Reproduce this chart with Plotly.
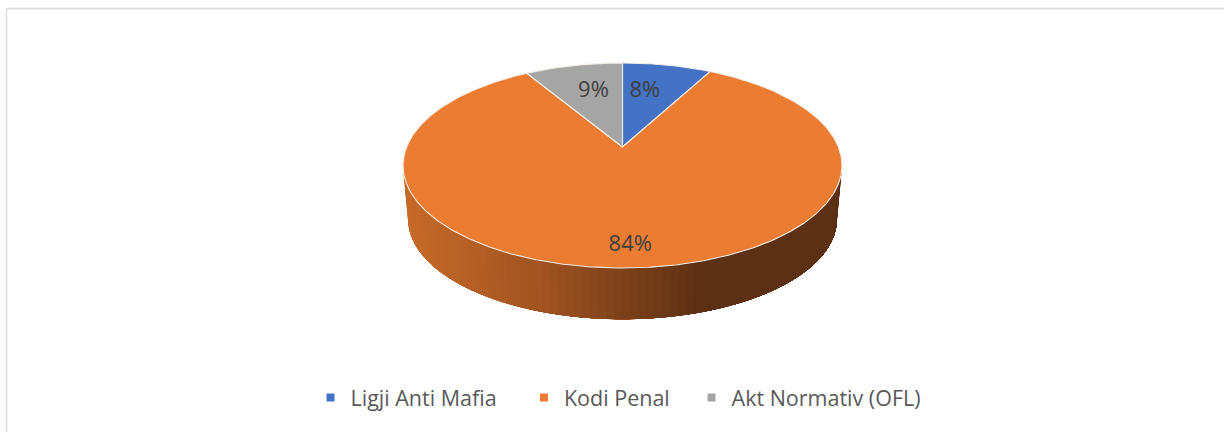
import numpy as np
import plotly.graph_objects as go

categories = ["Ligji Anti Mafia", "Kodi Penal", "Akt Normativ (OFL)"]
values = [7.8, 83.65, 8.55]
colors = ["#4472C4", "#EB7C31", "#A5A5A5"]
label_radius = [0.62, 0.80, 0.62]
label_shift = [(-7, -2), (3, 6), (3, -2)]
legend_pad = [4, 3, 0]

W, H = 1224, 432
CX, CY = 622.5, 147.0
A, B, K = 215.9, 99.2, -0.18
DEPTH_DY, DEPTH_S = 54.0, 0.977


def project(phi_deg, r=1.0, s=1.0, dy=0.0):
    p = np.radians(phi_deg)
    u, v = r * np.sin(p), -r * np.cos(p)
    d = 1 + K * v
    return CX + s * A * u / d, CY + dy + s * B * v / d


def side_color(x):
    stops_x = [405, 470, 540, 620, 700, 845]
    stops = np.array([[198, 107, 42], [180, 95, 38], [160, 83, 33], [124, 65, 27], [92, 48, 20], [92, 48, 20]])
    return "rgb(%d,%d,%d)" % tuple(np.interp(x, stops_x, stops[:, i]) for i in range(3))


fig = go.Figure()

# side wall: overlapping strips painted left to right (phi descends from 261 to 99)
edges = np.linspace(261, 99, 91)
for a, b in zip(edges[:-1], edges[1:]):
    phi = np.linspace(a, 99, 40)  # each strip runs on to the far end; the next paints over it
    x1, y1 = project(phi)
    x2, y2 = project(phi[::-1], s=DEPTH_S, dy=DEPTH_DY)
    xs = np.r_[x1, x2, x1[0]]
    ys = np.r_[y1, y2, y1[0]]
    c = side_color(float(project(a)[0]))
    fig.add_trace(go.Scatter(x=xs, y=ys, mode="lines", fill="toself", fillcolor=c,
                             line=dict(width=0), showlegend=False, hoverinfo="skip"))

# top face
total = sum(values)
start = 0.0
lx, ly, texts = [], [], []
for name, val, col, lr, sh in zip(categories, values, colors, label_radius, label_shift):
    sweep = val / total * 360
    phi = np.linspace(start, start + sweep, max(int(sweep * 2), 12))
    x, y = project(phi)
    fig.add_trace(go.Scatter(x=np.r_[CX, x, CX], y=np.r_[CY, y, CY], mode="lines", fill="toself",
                             fillcolor=col, line=dict(color="#F4EDE6", width=1.1),
                             showlegend=False, name=name, hoverinfo="name"))
    mx, my = project(start + sweep / 2, r=lr)
    lx.append(float(mx) + sh[0]); ly.append(float(my) + sh[1]); texts.append(f"{val / total * 100:.0f}%")
    start += sweep

fig.add_trace(go.Scatter(x=lx, y=ly, mode="text", text=texts, textposition="middle center",
                         textfont=dict(family="Open Sans", size=22, color="#404040"),
                         showlegend=False, hoverinfo="skip"))

# legend keys
for name, col, pad in zip(categories, colors, legend_pad):
    fig.add_trace(go.Scatter(x=[None], y=[None], mode="markers", name=name + "\u00a0" * pad,
                             marker=dict(symbol="square", size=8, color=col)))

fig.update_layout(
    width=W, height=H, autosize=False,
    margin=dict(l=0, r=0, t=0, b=0),
    paper_bgcolor="white", plot_bgcolor="white",
    xaxis=dict(range=[0, W], visible=False, fixedrange=True),
    yaxis=dict(range=[H, 0], visible=False, fixedrange=True),
    legend=dict(orientation="h", x=310.5 / W, xanchor="left", y=0.08, yanchor="middle",
                font=dict(family="Open Sans", size=21.5, color="#595959"),
                itemwidth=30, bgcolor="rgba(0,0,0,0)", tracegroupgap=0),
    shapes=[
        dict(type="line", xref="paper", yref="paper", x0=6.5 / W, x1=1, y0=1 - 8.5 / H, y1=1 - 8.5 / H,
             line=dict(color="#D9D9D9", width=1.5)),
        dict(type="line", xref="paper", yref="paper", x0=6.5 / W, x1=6.5 / W, y0=0, y1=1 - 8.5 / H,
             line=dict(color="#D9D9D9", width=1.5)),
    ],
)
fig.write_html("out.html", config={"displayModeBar": False},
               post_script="document.body.style.margin='0';")
